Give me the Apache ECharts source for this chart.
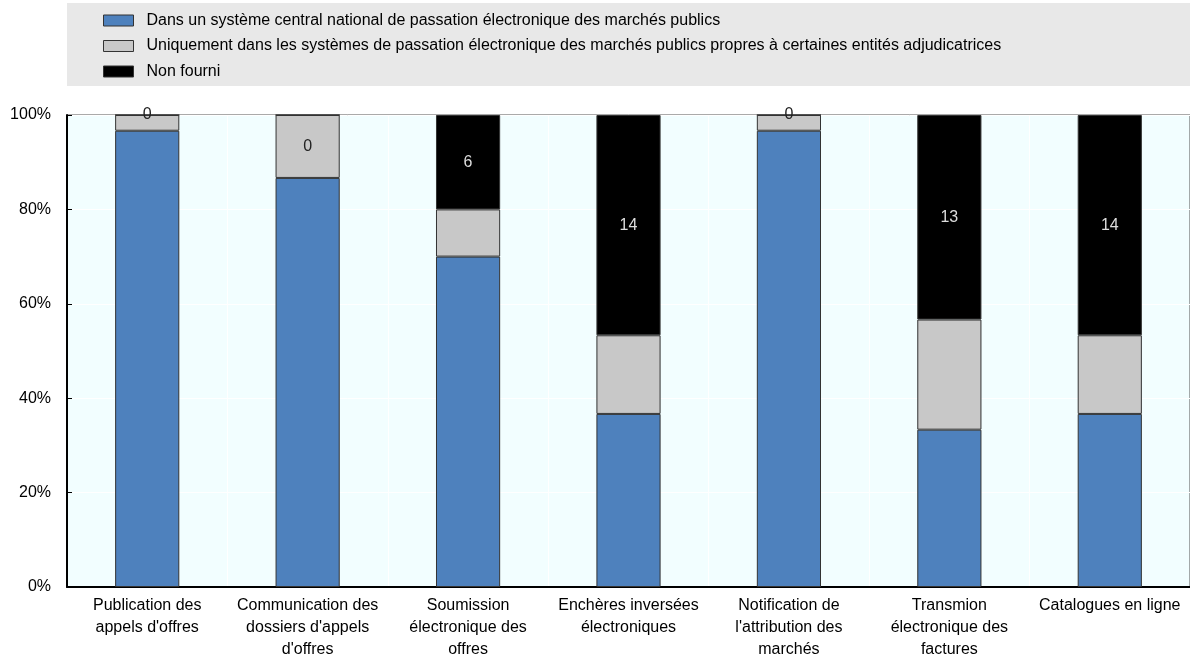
<!DOCTYPE html>
<html>
<head>
<meta charset="utf-8">
<script src="https://cdn.jsdelivr.net/npm/echarts@6/dist/echarts.min.js"></script>
<style>html,body{margin:0;padding:0;background:#fff}#c{width:1190px;height:660px}</style>
</head>
<body>
<div id="c"></div>
<script>
const categories = [
  "Publication des\nappels d'offres",
  "Communication des\ndossiers d'appels\nd'offres",
  "Soumission\nélectronique des\noffres",
  "Enchères inversées\nélectroniques",
  "Notification de\nl'attribution des\nmarchés",
  "Transmion\nélectronique des\nfactures",
  "Catalogues en ligne"
];
const seriesNames = [
  "Dans un système central national de passation électronique des marchés publics",
  "Uniquement dans les systèmes de passation électronique des marchés publics propres à certaines entités adjudicatrices",
  "Non fourni"
];
const centralCounts = [29, 26, 21, 11, 29, 10, 11];
const entityCounts = [1, 4, 3, 5, 1, 7, 5];
const nonFourniCounts = [0, 0, 6, 14, 0, 13, 14];
const totalCountries = 30;
const yTicks = [0, 20, 40, 60, 80, 100];

const pct = v => v / totalCountries * 100;
const colors = ['#4E81BD', '#C8C8C8', '#000000'];

// Bar 2 ("Communication") shows its label inside the grey segment in the reference
const labelOnGrey = [false, true, false, false, false, false, false];

const centralData = centralCounts.map(v => pct(v));
const entityData = entityCounts.map((v, i) => {
  if (labelOnGrey[i]) {
    return { value: pct(v), label: { show: true, position: 'inside', color: '#222', formatter: String(nonFourniCounts[i]) } };
  }
  return pct(v);
});
const nonData = nonFourniCounts.map((v, i) => {
  if (labelOnGrey[i]) return { value: pct(v), label: { show: false } };
  if (v === 0) return { value: pct(v), label: { show: true, color: '#222', formatter: String(v) } };
  return { value: pct(v), label: { show: true, color: '#dddddd', formatter: String(v) } };
});

const chart = echarts.init(document.getElementById('c'));
const font = "Arial, 'Liberation Sans', sans-serif";
const barStyle = c => ({ color: c, borderColor: '#333', borderWidth: 1 });

chart.setOption({
  animation: false,
  textStyle: { fontFamily: font },
  graphic: [{
    type: 'rect', left: 67, top: 3, z: -1,
    shape: { width: 1123, height: 83 },
    style: { fill: '#E8E8E8' }
  }],
  legend: {
    orient: 'vertical', left: 103, top: 12, padding: 0,
    icon: 'rect',
    itemWidth: 30, itemHeight: 11, itemGap: 8.5,
    itemStyle: { borderColor: '#333', borderWidth: 1 },
    textStyle: { fontSize: 16, color: '#000', fontFamily: font, padding: [0, 0, 0, 8], height: 17, lineHeight: 17 },
    data: seriesNames
  },
  grid: {
    left: 67, right: 0, top: 115, bottom: 73,
    containLabel: false, outerBoundsMode: 'none',
    show: true, backgroundColor: '#F2FEFF', borderColor: '#555', borderWidth: 1
  },
  xAxis: {
    type: 'category', data: categories,
    axisLine: { lineStyle: { color: '#000', width: 2 } },
    axisTick: { inside: true, length: 5, lineStyle: { color: '#000' } },
    splitLine: { show: true, lineStyle: { color: '#ffffff', width: 1 } },
    axisLabel: { fontSize: 16, color: '#000', lineHeight: 22, margin: 8, interval: 0 }
  },
  yAxis: {
    type: 'value', min: 0, max: 100, interval: 20,
    axisLine: { show: true, lineStyle: { color: '#000', width: 2 } },
    axisTick: { show: true, inside: true, length: 5, lineStyle: { color: '#000' } },
    splitLine: { show: true, lineStyle: { color: '#ffffff', width: 1 } },
    axisLabel: { fontSize: 16, color: '#000', margin: 16, formatter: v => yTicks.includes(v) ? v + '%' : '' }
  },
  series: [
    { name: seriesNames[0], type: 'bar', stack: 't', barWidth: '40%', data: centralData, itemStyle: barStyle(colors[0]) },
    { name: seriesNames[1], type: 'bar', stack: 't', data: entityData, itemStyle: barStyle(colors[1]),
      label: { show: false, fontSize: 16 } },
    { name: seriesNames[2], type: 'bar', stack: 't', data: nonData, itemStyle: barStyle(colors[2]),
      label: { show: false, position: 'inside', fontSize: 16 } }
  ]
});
</script>
</body>
</html>
